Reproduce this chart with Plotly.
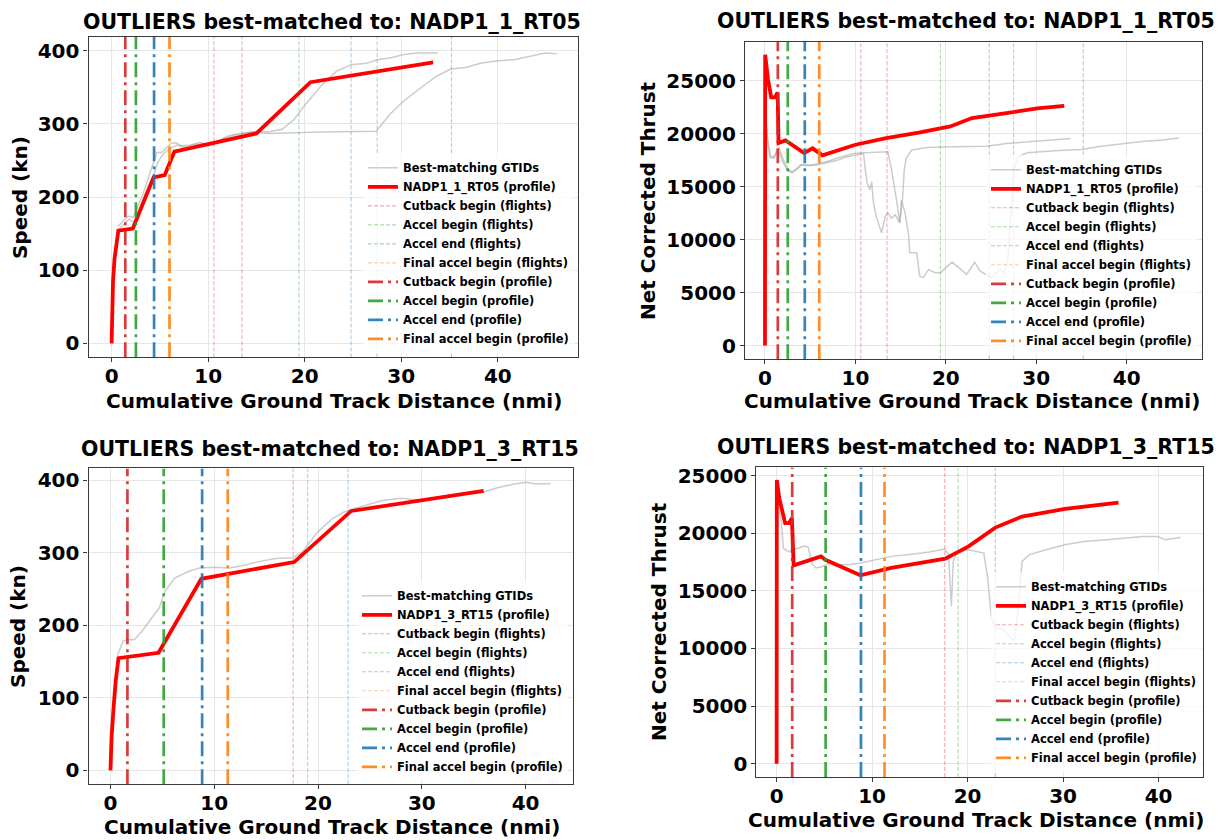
import plotly.graph_objects as go

W, H = 1228, 840
FONT = "DejaVu Sans"

# ---------------- data ----------------
route_top = "NADP1_1_RT05"
route_bot = "NADP1_3_RT15"
xlabel = "Cumulative Ground Track Distance (nmi)"

# --- top-left: speed, NADP1_1_RT05 ---
tl_prof_x = [0, 0.05, 0.15, 0.3, 0.5, 0.7, 2.2, 4.35, 5.5, 6.5, 15.0, 20.6, 33.3]
tl_prof_y = [0, 50, 85, 115, 140, 154, 157, 227, 230, 262, 287, 357, 384]
tl_fa_x = [0.68, 1.2, 1.7, 2.25, 3.3, 4.1, 4.7, 5.2, 5.7, 6.2, 6.7, 7.2, 8.1, 9.2, 10.0, 10.9, 11.9,
           12.9, 14.0, 15.0, 16.2, 17.7, 18.9, 20.1, 21.7, 23.3, 24.8, 26.4, 27.6, 28.8, 30.3, 31.5, 33.8]
tl_fa_y = [160, 167, 174, 172, 206, 238, 261, 261, 267, 274, 274, 270, 271, 275, 270, 275, 283,
           286, 288, 290, 289, 293, 306, 327, 352, 372, 381, 383, 388, 390, 395, 397, 397]
tl_fb_x = [0.7, 1.3, 1.8, 2.3, 2.8, 3.3, 3.8, 4.3, 4.8, 5.3, 5.8, 6.3, 6.8, 7.5, 8.5, 9.5, 10.5, 11.5,
           12.5, 13.5, 14.5, 16.2, 18.5, 22.0, 27.4, 28.8, 30.3, 31.9, 33.5, 35.1, 36.7, 38.2, 39.8,
           41.8, 43.7, 44.9, 46.1]
tl_fb_y = [155, 163, 170, 165, 180, 198, 215, 228, 248, 258, 264, 268, 271, 268, 272, 273, 272, 279,
           284, 287, 289, 287, 288, 289, 290, 313, 332, 348, 364, 375, 377, 383, 386,
           388, 393, 397, 396]

# --- top-right: thrust, NADP1_1_RT05 ---
tr_prof_x = [0, 0.02, 0.34, 0.69, 1.1, 1.4, 1.5, 2.27, 4.33, 5.27, 6.35, 10.0, 13.4, 17.0, 20.5,
             22.9, 26.7, 30.1, 33.1]
tr_prof_y = [0, 27450, 25100, 23430, 23430, 23900, 19120, 19370, 18180, 18620, 17960, 18960, 19590,
             20100, 20690, 21480, 21950, 22390, 22640]
tr_fa_x = [0.15, 0.35, 0.6, 1.0, 1.35, 1.6, 2.0, 2.5, 3.0, 3.5, 4.0, 4.5, 5.0, 5.5, 6.1, 7.0, 8.0,
           9.8, 11.0, 12.5, 13.6, 14.0, 14.4, 14.6, 14.9, 15.2, 15.4, 15.6, 16.2, 17.9, 20.8, 24.5,
           26.7, 28.2, 30.0, 32.0, 33.8]
tr_fa_y = [20900, 19200, 17900, 17800, 18500, 18600, 17600, 16700, 16400, 16600, 17000, 17100, 17000,
           17100, 17190, 17400, 17700, 18130, 18200, 18250, 18290, 16570, 14690, 13440, 11570, 13750,
           16570, 17660, 18440, 18690, 18760, 18820, 19070, 19170, 19300, 19400, 19550]
tr_fb_x = [0.15, 0.35, 0.6, 1.0, 1.35, 1.6, 2.0, 2.5, 3.0, 3.5, 4.0, 4.5, 5.0, 6.0, 7.0, 8.0, 9.0,
           10.5, 10.9, 11.1, 11.3, 11.6, 11.8, 12.0, 12.3, 12.9, 13.3, 13.6, 14.0, 14.4, 14.9, 15.1,
           15.5, 15.9, 16.0, 16.8, 17.1, 17.5, 18.1, 18.8, 19.4, 20.7, 21.6, 22.3, 23.2, 23.8, 25.1,
           26.0, 26.5, 26.9, 27.5, 28.0, 29.0, 32.0, 35.0, 37.0, 40.0, 42.0, 44.0, 45.8]
tr_fb_y = [20600, 18800, 17700, 17700, 18300, 18200, 17300, 16500, 16300, 16700, 17100, 17000, 17000,
           17100, 17300, 17500, 17800, 18100, 18130, 16570, 15320, 14690, 15480, 13440, 12200, 10630,
           12200, 12500, 12030, 12350, 11570, 13750, 12500, 10320, 8750, 8750, 6570, 6410, 7190, 6880,
           6880, 7880, 7190, 6720, 7880, 7030, 6410, 7190, 6880, 8440, 16570, 17820, 18200, 18400,
           18500, 18800, 19100, 19300, 19400, 19590]

# --- bottom-left: speed, NADP1_3_RT15 ---
bl_prof_x = [0, 0.1, 0.3, 0.5, 0.77, 4.63, 8.75, 17.7, 23.2, 35.96]
bl_prof_y = [0, 45, 87, 123, 154.5, 162, 264, 287, 357.5, 385]
bl_f_x = [0.66, 1.2, 1.6, 2.3, 3.05, 4.0, 4.7, 5.26, 6.2, 7.5, 8.6, 9.7, 10.8, 11.5, 13.0, 14.4, 15.9,
          17.6, 18.5, 20.0, 21.4, 22.5, 24.0, 26.2, 28.0, 29.9, 31.7, 33.5, 35.8, 37.2, 38.7, 40.0,
          40.9, 42.4]
bl_f_y = [158, 178, 180, 180, 192, 210, 224, 247, 265, 274, 279, 280, 280, 279, 283, 288, 292, 293,
          301, 329, 347, 356, 363, 372, 375, 372, 377, 380, 383, 389, 394, 397, 395, 395]

# --- bottom-right: thrust, NADP1_3_RT15 ---
br_prof_x = [0, 0.02, 0.28, 0.89, 1.29, 1.6, 1.78, 4.65, 5.1, 8.77, 12.0, 17.66, 20.1, 22.9, 25.7,
             30.2, 35.8]
br_prof_y = [0, 24630, 23040, 20880, 20880, 21310, 17220, 18000, 17700, 16360, 17000, 17800, 18870,
             20500, 21460, 22120, 22670]
br_f_x = [0.08, 0.5, 0.7, 1.3, 1.7, 2.3, 2.9, 3.3, 3.7, 4.1, 4.7, 5.5, 6.3, 7.6, 8.8, 10.4, 12.0, 14.4,
          16.0, 17.6, 18.0, 18.3, 18.5, 18.9, 20.1, 21.7, 22.1, 22.5, 22.9, 23.7, 24.5, 24.9, 25.3,
          25.7, 26.5, 28.2, 30.2, 32.2, 34.6, 36.2, 38.3, 39.9, 40.7, 42.3]
br_f_y = [22900, 21000, 18700, 18400, 18600, 18700, 18900, 18800, 17400, 16990, 17100, 17400, 17280,
          17280, 17430, 17700, 18000, 18200, 18380, 18640, 18150, 13680, 17570, 18430, 18580, 18290,
          16130, 12670, 11800, 11660, 10940, 10660, 13540, 17570, 18150, 18580, 19010, 19300, 19440,
          19580, 19720, 19720, 19440, 19640]

# --- event markers (nmi) ---
top_flights = {"Cutback begin": [10.6, 13.5], "Accel begin": [19.4, 27.5],
               "Accel end": [24.8, 35.2], "Final accel begin": []}
top_profile = {"Cutback begin": 1.42, "Accel begin": 2.52, "Accel end": 4.4, "Final accel begin": 6.0}
bot_flights = {"Cutback begin": [17.6], "Accel begin": [19.0],
               "Accel end": [22.9], "Final accel begin": []}
bot_profile = {"Cutback begin": 1.63, "Accel begin": 5.13, "Accel end": 8.83, "Final accel begin": 11.3}

# --- ticks ---
speed_ticks = [0, 100, 200, 300, 400]
thrust_ticks = [0, 5000, 10000, 15000, 20000, 25000]
dist_ticks = [0, 10, 20, 30, 40]

# ---------------- styling ----------------
EVENT_COLORS = {"Cutback begin": "214,39,40", "Accel begin": "44,160,44",
                "Accel end": "31,119,180", "Final accel begin": "255,127,14"}
GRAY = "rgba(170,170,170,0.6)"

panels = [
    dict(ax="", leg="legend", dx=[0.07207, 0.47068], dy=[0.57738, 0.96071],
         xr=[-2.39, 48.3], yr=[-19, 419], yt=speed_ticks, ylab="Speed (kn)", route=route_top,
         prof=(tl_prof_x, tl_prof_y), flights=[(tl_fa_x, tl_fa_y), (tl_fb_x, tl_fb_y)],
         ev_f=top_flights, ev_p=top_profile,
         title_xy=(332, 18), ylab_xy=(20, 195), xlab_xy=(334, 399), leg_x=363, leg_b=351),
    dict(ax="2", leg="legend2", dx=[0.60668, 0.97858], dy=[0.575, 0.95440],
         xr=[-2.21, 48.3], yr=[-1300, 28650], yt=thrust_ticks, ylab="Net Corrected Thrust",
         route=route_top, prof=(tr_prof_x, tr_prof_y), flights=[(tr_fa_x, tr_fa_y), (tr_fb_x, tr_fb_y)],
         ev_f=top_flights, ev_p=top_profile,
         title_xy=(966, 17), ylab_xy=(648, 198), xlab_xy=(972, 399), leg_x=986, leg_b=353),
    dict(ax="3", leg="legend3", dx=[0.07207, 0.46686], dy=[0.06667, 0.44440],
         xr=[-2.12, 44.6], yr=[-19.2, 416], yt=speed_ticks, ylab="Speed (kn)", route=route_bot,
         prof=(bl_prof_x, bl_prof_y), flights=[(bl_f_x, bl_f_y)],
         ev_f=bot_flights, ev_p=bot_profile,
         title_xy=(330, 447), ylab_xy=(18, 626), xlab_xy=(332, 827), leg_x=357, leg_b=781),
    dict(ax="4", leg="legend4", dx=[0.61596, 0.97924], dy=[0.07536, 0.44560],
         xr=[-2.12, 44.6], yr=[-1160, 25720], yt=thrust_ticks, ylab="Net Corrected Thrust",
         route=route_bot, prof=(br_prof_x, br_prof_y), flights=[(br_f_x, br_f_y)],
         ev_f=bot_flights, ev_p=bot_profile,
         title_xy=(966, 445), ylab_xy=(659, 621), xlab_xy=(976, 820), leg_x=991, leg_b=772),
]

fig = go.Figure()
annotations = []
layout = dict(width=W, height=H, margin=dict(l=0, r=0, t=0, b=0),
              paper_bgcolor="white", plot_bgcolor="white", showlegend=True,
              font=dict(family=FONT, color="black"))

for p in panels:
    xa = "x" + p["ax"]
    ya = "y" + p["ax"]
    leg = p["leg"]
    for i, (fx, fy) in enumerate(p["flights"]):
        fig.add_trace(go.Scatter(x=fx, y=fy, mode="lines", xaxis=xa, yaxis=ya, legend=leg,
                                 line=dict(color=GRAY, width=1.5), name="Best-matching GTIDs",
                                 legendgroup="g" + p["ax"], showlegend=(i == 0)))
    fig.add_trace(go.Scatter(x=p["prof"][0], y=p["prof"][1], mode="lines", xaxis=xa, yaxis=ya,
                             legend=leg, line=dict(color="#ff0000", width=3.8),
                             name=f"{p['route']} (profile)"))
    y0, y1 = p["yr"]
    for ev, xs in p["ev_f"].items():
        lx, ly = [], []
        for v in xs:
            lx += [v, v, None]
            ly += [y0, y1, None]
        if not lx:
            lx, ly = [None], [None]
        fig.add_trace(go.Scatter(x=lx, y=ly, mode="lines", xaxis=xa, yaxis=ya, legend=leg,
                                 line=dict(color=f"rgba({EVENT_COLORS[ev]},0.38)", width=1.1,
                                           dash="4px,2px"),
                                 name=f"{ev} (flights)"))
    for ev, v in p["ev_p"].items():
        fig.add_trace(go.Scatter(x=[v, v], y=[y0, y1], mode="lines", xaxis=xa, yaxis=ya, legend=leg,
                                 line=dict(color=f"rgba({EVENT_COLORS[ev]},0.9)", width=2.7,
                                           dash="15px,5px,3px,5px"),
                                 name=f"{ev} (profile)"))

    axis_common = dict(showline=True, mirror=True, linecolor="#3a3a3a", linewidth=1.2,
                       showgrid=True, gridcolor="#e6e6e6", gridwidth=1, zeroline=False,
                       ticks="outside", ticklen=4, tickcolor="#3a3a3a",
                       tickfont=dict(family=FONT, size=20, color="black", weight="bold"))
    layout["xaxis" + p["ax"]] = dict(domain=p["dx"], range=p["xr"], anchor=ya,
                                     tickvals=dist_ticks, ticklabelstandoff=-3, **axis_common)
    layout["yaxis" + p["ax"]] = dict(domain=p["dy"], range=p["yr"], anchor=xa,
                                     tickvals=p["yt"], tickformat="d", **axis_common)
    layout[leg] = dict(x=p["leg_x"] / W, xanchor="left", y=1 - p["leg_b"] / H, yanchor="bottom",
                       bgcolor="rgba(255,255,255,0.75)", borderwidth=0,
                       font=dict(family=FONT, size=11.5, color="black", weight="bold"),
                       itemwidth=30, tracegroupgap=0)
    tx, ty = p["title_xy"]
    annotations.append(dict(text=f"OUTLIERS best-matched to: {p['route']}", x=tx / W, y=1 - ty / H,
                            xref="paper", yref="paper", showarrow=False, xanchor="center",
                            yanchor="middle",
                            font=dict(family=FONT, size=20.5, color="black", weight="bold")))
    lx_, ly_ = p["ylab_xy"]
    annotations.append(dict(text=p["ylab"], x=lx_ / W, y=1 - ly_ / H, xref="paper", yref="paper",
                            showarrow=False, textangle=-90, xanchor="center", yanchor="middle",
                            font=dict(family=FONT, size=20, color="black", weight="bold")))
    xx, xy = p["xlab_xy"]
    annotations.append(dict(text=xlabel, x=xx / W, y=1 - xy / H, xref="paper", yref="paper",
                            showarrow=False, xanchor="center", yanchor="middle",
                            font=dict(family=FONT, size=20, color="black", weight="bold")))

layout["annotations"] = annotations
fig.update_layout(**layout)
fig.write_html("out.html")
